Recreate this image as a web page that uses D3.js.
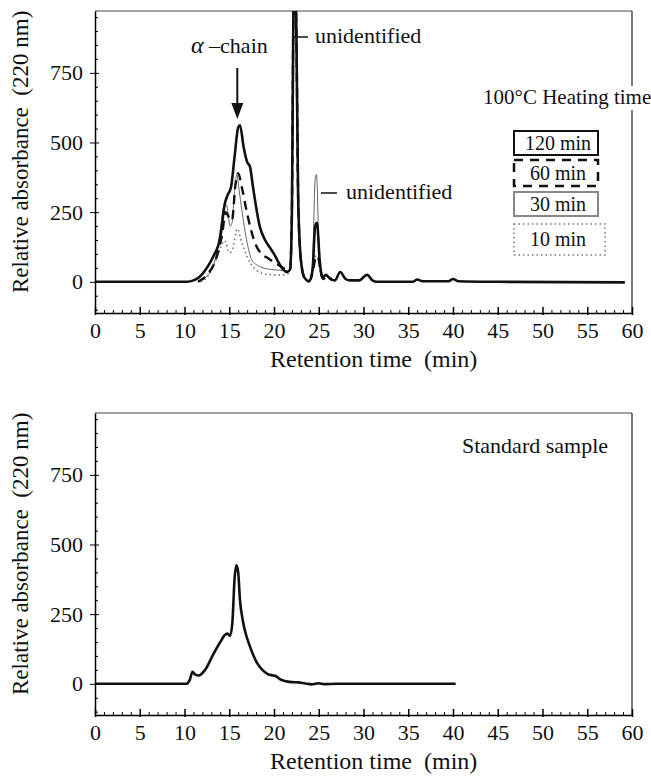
<!DOCTYPE html>
<html>
<head>
<meta charset="utf-8">
<script src="https://cdn.jsdelivr.net/npm/d3@7"></script>
<style>
  body { margin: 0; background: #fff; }
  text { font-family: 'Liberation Serif', 'Noto Sans CJK SC', serif; fill: #111; }
</style>
</head>
<body>
<div id="plot"></div>
<script>
// retention time (min), relative absorbance (220 nm)
var heat120 = [[0,0],[10.3,0],[11,5],[11.7,18],[12.5,50],[13.2,90],[14,160],[14.5,280],[14.8,310],[15.2,340],
  [15.6,450],[16.0,555],[16.2,562],[16.6,485],[17.0,430],[17.3,415],[17.7,330],[18.4,200],[19.0,150],[19.6,120],
  [20.0,100],[20.5,70],[21.0,45],[21.5,35],[21.8,45],[22.0,250],[22.15,900],[22.3,1150],[22.5,900],[22.7,300],
  [23.0,80],[23.4,15],[23.9,2],[24.3,40],[24.6,200],[24.8,212],[25.1,80],[25.4,15],[25.8,25],[26.3,10],[26.8,5],
  [27.4,35],[28.0,10],[28.5,5],[29.5,5],[30.4,25],[31.0,5],[31.5,0],[35.5,0],[36.0,8],[36.6,2],[39.5,2],
  [40.0,10],[40.6,2],[45,0],[59.2,-2]];
var heat60 = [[11.5,0],[12.5,25],[13.5,80],[14.2,170],[14.6,250],[15.0,230],[15.3,220],[15.7,350],[16.0,390],
  [16.4,340],[16.9,260],[17.4,190],[18.0,130],[18.6,100],[19.3,85],[20.0,70],[20.8,55],[21.5,40],[21.8,45],
  [22.0,250],[22.15,900],[22.3,1150],[22.5,900],[22.7,300],[23.0,80],[23.4,15],[23.9,2],[24.3,30],[24.7,90],
  [24.9,90],[25.2,40],[25.5,10],[26,20],[26.5,5]];
var heat30 = [[11.5,0],[12.5,20],[13.5,90],[14.0,190],[14.4,270],[14.7,275],[15.1,200],[15.3,210],[15.6,330],
  [15.85,385],[16.1,330],[16.4,260],[17.0,140],[17.5,80],[18.4,55],[19.5,45],[20.5,42],[21.5,40],[21.8,45],
  [22.0,250],[22.15,900],[22.3,1150],[22.5,900],[22.7,300],[23.0,80],[23.4,15],[23.9,2],[24.3,60],[24.6,370],
  [24.75,385],[25.0,150],[25.3,20],[25.7,22],[26.3,8],[26.8,5]];
var heat10 = [[11.8,0],[12.5,15],[13.3,60],[14.0,120],[14.5,148],[15.0,105],[15.3,110],[15.9,190],[16.4,140],
  [17.0,90],[17.5,60],[18.0,42],[19.0,28],[20.0,25],[21.0,25],[21.6,30],[21.8,45],[22.0,250],[22.15,900],
  [22.3,1150],[22.5,900],[22.7,300],[23.0,80],[23.4,15],[23.9,2],[24.3,30],[24.7,95],[24.9,90],[25.2,30],
  [25.5,10],[26,18],[26.5,5]];
var standard = [[0,0],[10.2,0],[10.6,15],[10.9,43],[11.2,33],[11.6,30],[12.3,50],[13.2,105],[14.0,150],[14.5,175],
  [14.8,180],[15.1,172],[15.35,220],[15.6,380],[15.8,425],[16.0,400],[16.2,300],[16.5,230],[16.8,185],[17.3,135],
  [18.1,75],[18.7,50],[19.3,35],[19.9,30],[20.2,28],[20.6,18],[21.2,10],[22.0,6],[22.7,5],[23.5,1],[24.2,-2],
  [25.0,2],[25.6,-1],[27,0],[40.3,0]];

var xTicks = [0,5,10,15,20,25,30,35,40,45,50,55,60];
var yTicks = [0,250,500,750];
var legendNames = ["120 min","60 min","30 min","10 min"];

var svg = d3.select("#plot").append("svg").attr("width", 651).attr("height", 776);
var x = d3.scaleLinear().domain([0, 60]).range([95, 632]);
var FONT = "'Liberation Serif', 'Noto Sans CJK SC', serif";

function panel(top, bottom, id) {
  var y = d3.scaleLinear().domain([-112, 972]).range([bottom, top]);
  var g = svg.append("g");
  g.append("clipPath").attr("id", id).append("rect")
    .attr("x", 95).attr("y", top).attr("width", 537).attr("height", bottom - top);

  // frame (top + right)
  g.append("line").attr("x1", 95).attr("x2", 632).attr("y1", top).attr("y2", top)
    .attr("stroke", "#444").attr("stroke-width", 1);
  g.append("line").attr("x1", 632).attr("x2", 632).attr("y1", top).attr("y2", bottom)
    .attr("stroke", "#222").attr("stroke-width", 1.2);

  // x axis
  var gx = g.append("g").attr("transform", "translate(0," + bottom + ")")
    .call(d3.axisBottom(x).tickValues(xTicks).tickSizeInner(-6).tickSizeOuter(0).tickPadding(9));
  gx.attr("font-family", FONT).attr("font-size", 22);
  gx.select(".domain").attr("stroke-width", 1.5);
  gx.selectAll(".tick line").attr("stroke-width", 1.5);
  var gx2 = g.append("g").attr("transform", "translate(0," + bottom + ")")
    .call(d3.axisBottom(x).tickValues(d3.range(0, 61).filter(function (v) { return v % 5; }))
      .tickSize(-3).tickFormat(""));
  gx2.select(".domain").remove();
  var gx3 = g.append("g").attr("transform", "translate(0," + bottom + ")")
    .call(d3.axisBottom(x).tickValues(xTicks).tickSize(2).tickFormat(""));
  gx3.select(".domain").remove();
  gx3.selectAll(".tick line").attr("stroke-width", 1.5);

  // y axis
  var gy = g.append("g").attr("transform", "translate(95,0)")
    .call(d3.axisLeft(y).tickValues(yTicks).tickSizeInner(5).tickSizeOuter(0).tickPadding(7));
  gy.attr("font-family", FONT).attr("font-size", 22);
  gy.select(".domain").attr("stroke-width", 1.5);
  var gy2 = g.append("g").attr("transform", "translate(95,0)")
    .call(d3.axisLeft(y).tickValues(yTicks).tickSize(-4).tickFormat(""));
  gy2.select(".domain").remove();
  var gy3 = g.append("g").attr("transform", "translate(95,0)")
    .call(d3.axisLeft(y).tickValues(d3.range(-100, 951, 50).filter(function (v) { return v % 250 !== 0; }))
      .tickSize(-3).tickFormat(""));
  gy3.select(".domain").remove();

  // axis titles
  g.append("text").attr("x", 270).attr("y", bottom + 54).attr("font-size", 24)
    .text("Retention time\u2002(min)");
  g.append("text").attr("transform", "translate(28," + (bottom - 20) + ") rotate(-90)")
    .attr("font-size", 23).text("Relative absorbance\u2002(220 nm)");

  var plot = g.append("g").attr("clip-path", "url(#" + id + ")");
  return { g: g, y: y, plot: plot };
}

function drawLine(p, data, stroke, width, dash) {
  var line = d3.line().x(function (d) { return x(d[0]); }).y(function (d) { return p.y(d[1]); })
    .curve(d3.curveMonotoneX);
  p.plot.append("path").datum(data).attr("d", line).attr("fill", "none")
    .attr("stroke", stroke).attr("stroke-width", width)
    .attr("stroke-dasharray", dash).attr("stroke-linejoin", "round");
}

// ---- top panel ----
var topP = panel(11, 313, "clipTop");
drawLine(topP, heat10, "#777", 1.6, "1.5,3");
drawLine(topP, heat30, "#666", 1, null);
drawLine(topP, heat60, "#111", 2.4, "9,6");
drawLine(topP, heat120, "#111", 2.6, null);

// alpha-chain annotation
var ac = topP.g.append("text").attr("x", 191).attr("y", 53).attr("font-size", 22);
ac.append("tspan").attr("font-style", "italic").attr("font-size", 24).text("α");
ac.append("tspan").text(" –chain");
var ax = x(15.9);
topP.g.append("line").attr("x1", ax).attr("x2", ax).attr("y1", 68).attr("y2", 106)
  .attr("stroke", "#111").attr("stroke-width", 2);
topP.g.append("path").attr("d", "M" + (ax - 6) + ",103 L" + (ax + 6) + ",103 L" + ax + ",119 Z").attr("fill", "#111");

// unidentified labels
topP.g.append("line").attr("x1", 293).attr("x2", 308).attr("y1", 37).attr("y2", 37).attr("stroke", "#111").attr("stroke-width", 1.5);
topP.g.append("text").attr("x", 315).attr("y", 43).attr("font-size", 22).text("unidentified");
topP.g.append("line").attr("x1", 321).attr("x2", 337).attr("y1", 193).attr("y2", 193).attr("stroke", "#111").attr("stroke-width", 1.5);
topP.g.append("text").attr("x", 346).attr("y", 199).attr("font-size", 22).text("unidentified");

// legend
topP.g.append("rect").attr("x", 480).attr("y", 86).attr("width", 171).attr("height", 24).attr("fill", "#fff");
topP.g.append("text").attr("x", 483).attr("y", 104).attr("font-size", 21).text("100°C Heating time");
var legBoxes = [
  { y: 131, h: 24, w: 84, stroke: "#111", sw: 2, dash: null, base: 150 },
  { y: 160, h: 26, w: 84, stroke: "#111", sw: 2.5, dash: "9,7", base: 180 },
  { y: 192, h: 24, w: 84, stroke: "#888", sw: 2, dash: null, base: 211 },
  { y: 224, h: 31, w: 91, stroke: "#777", sw: 1.5, dash: "1.5,3", base: 246 }
];
legBoxes.forEach(function (b, i) {
  topP.g.append("rect").attr("x", 514).attr("y", b.y).attr("width", b.w).attr("height", b.h)
    .attr("fill", "none").attr("stroke", b.stroke).attr("stroke-width", b.sw).attr("stroke-dasharray", b.dash);
  topP.g.append("text").attr("x", 558).attr("y", b.base).attr("font-size", 20)
    .attr("text-anchor", "middle").text(legendNames[i]);
});

// ---- bottom panel ----
var botP = panel(413, 715, "clipBot");
drawLine(botP, standard, "#111", 2.6, null);
botP.g.append("text").attr("x", 462).attr("y", 453).attr("font-size", 22).text("Standard sample");
</script>
</body>
</html>
